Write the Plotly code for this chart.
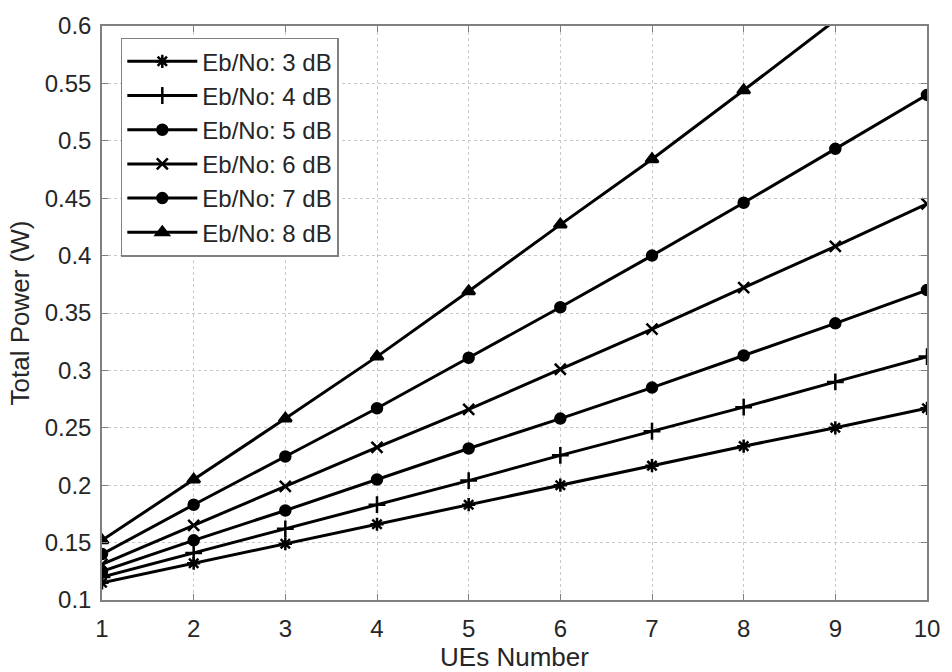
import plotly.graph_objects as go

# Number of UEs on the x axis
ues = [1, 2, 3, 4, 5, 6, 7, 8, 9, 10]

# Total transmit power (W) for each Eb/No target
p_3db = [0.115, 0.132, 0.149, 0.166, 0.183, 0.200, 0.217, 0.234, 0.250, 0.267]
p_4db = [0.120, 0.141, 0.162, 0.183, 0.204, 0.226, 0.247, 0.268, 0.290, 0.312]
p_5db = [0.125, 0.152, 0.178, 0.205, 0.232, 0.258, 0.285, 0.313, 0.341, 0.370]
p_6db = [0.131, 0.165, 0.199, 0.233, 0.266, 0.301, 0.336, 0.372, 0.408, 0.445]
p_7db = [0.140, 0.183, 0.225, 0.267, 0.311, 0.355, 0.400, 0.446, 0.493, 0.540]
p_8db = [0.152, 0.205, 0.258, 0.312, 0.369, 0.427, 0.484, 0.544, 0.605, 0.668]

series_names = ["Eb/No: 3 dB", "Eb/No: 4 dB", "Eb/No: 5 dB",
                "Eb/No: 6 dB", "Eb/No: 7 dB", "Eb/No: 8 dB"]
series_values = [p_3db, p_4db, p_5db, p_6db, p_7db, p_8db]

x_ticks = [1, 2, 3, 4, 5, 6, 7, 8, 9, 10]
y_ticks = [0.1, 0.15, 0.2, 0.25, 0.3, 0.35, 0.4, 0.45, 0.5, 0.55, 0.6]

symbols = ["asterisk-open", "cross-thin-open", "circle",
           "x-thin-open", "circle", "triangle-up"]
sizes = [11, 12, 10, 11, 10, 11]

FONT = "Liberation Sans, Arial, Helvetica, sans-serif"
TEXT = "#262626"
AXIS = "#808080"
GRID = "#c8c8c8"

fig = go.Figure()
for name, vals, sym, sz in zip(series_names, series_values, symbols, sizes):
    fig.add_trace(go.Scatter(
        x=ues, y=vals, name=name, mode="lines+markers",
        line=dict(color="black", width=3),
        marker=dict(symbol=sym, size=sz, color="black",
                    line=dict(color="black", width=2.5)),
    ))

common_axis = dict(
    showline=True, linecolor=AXIS, linewidth=1.5, mirror="ticks",
    ticks="inside", ticklen=6, tickcolor=AXIS, tickwidth=1,
    showgrid=True, gridcolor=GRID, griddash="dot", gridwidth=1,
    zeroline=False,
    tickfont=dict(family=FONT, size=24, color=TEXT),
)

fig.update_xaxes(
    range=[1, 10], tickvals=x_ticks, ticktext=[str(v) for v in x_ticks],
    ticklabelstandoff=6,
    title=dict(text="UEs Number", font=dict(family=FONT, size=26, color=TEXT),
               standoff=0),
    **common_axis,
)
fig.update_yaxes(
    range=[0.1, 0.6], tickvals=y_ticks, ticktext=[f"{v:g}" for v in y_ticks],
    ticklabelstandoff=4,
    title=dict(text="Total Power (W)", font=dict(family=FONT, size=26, color=TEXT),
               standoff=8),
    **common_axis,
)

fig.update_layout(
    width=952, height=672,
    margin=dict(l=102, r=17, t=18, b=66),
    paper_bgcolor="white", plot_bgcolor="white",
    showlegend=True,
    legend=dict(
        x=0.0228, y=0.9796, xanchor="left", yanchor="top",
        bgcolor="white", bordercolor=AXIS, borderwidth=1.5,
        font=dict(family=FONT, size=24, color=TEXT),
        itemwidth=70, tracegroupgap=0,
    ),
)

fig.write_html("out.html")
